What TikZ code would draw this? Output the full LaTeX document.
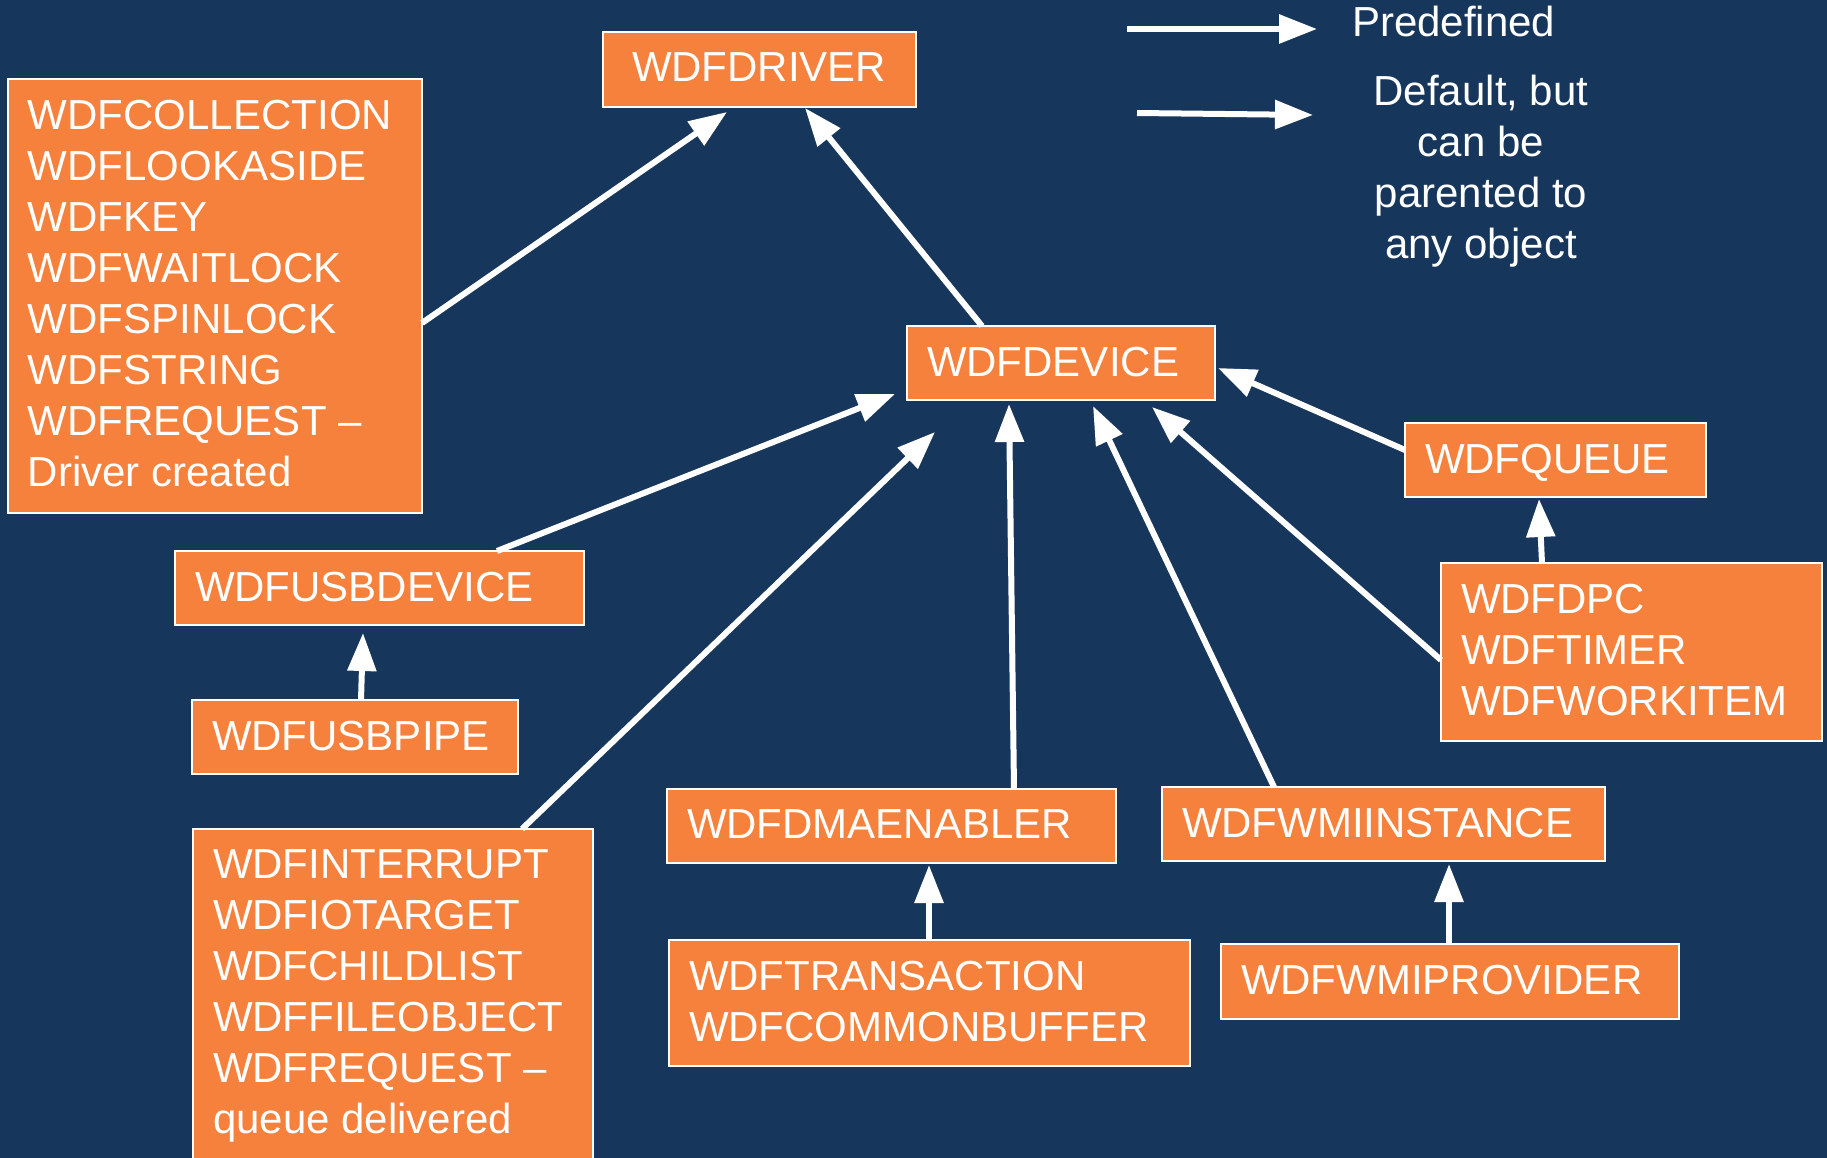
\documentclass[tikz,border=0pt]{standalone}
\usepackage{fontspec}
\setmainfont{Liberation Sans}
\usetikzlibrary{arrows.meta}
\definecolor{bg}{RGB}{23,54,92}
\definecolor{orng}{RGB}{245,129,61}
\newcommand\boxtxt[4][20pt]{\parbox[c][#3][t]{#2}{\leftskip=#1\parindent=0pt\rightskip=0pt plus 1fil\vspace*{21pt}#4}}
\begin{document}
\begin{tikzpicture}[x=1pt,y=-1pt,
  every node/.style={font=\fontsize{42}{51}\selectfont, text=white},
  objbox/.style={draw=white, line width=2pt, fill=orng, inner sep=0pt, outer sep=0pt, anchor=north west},
  arr/.style={draw=white, line width=6pt, -{Triangle[length=38pt,width=28pt]}}]
\useasboundingbox (0,0) rectangle (1827,1158);
\fill[bg] (0,0) rectangle (1827,1158);
\begin{scope}
\clip (0,0) rectangle (1827,1158);
\node[objbox] (drv) at (603,32) {\boxtxt[29pt]{313pt}{75pt}{WDFDRIVER}};
\node[objbox] (coll) at (8,79) {\boxtxt{414pt}{434pt}{WDFCOLLECTION\\WDFLOOKASIDE\\WDFKEY\\WDFWAITLOCK\\WDFSPINLOCK\\WDFSTRING\\WDFREQUEST –\\Driver created}};
\node[objbox] (dev) at (907,326) {\boxtxt{308pt}{74pt}{WDFDEVICE}};
\node[objbox] (queue) at (1405,423) {\boxtxt{301pt}{74pt}{WDFQUEUE}};
\node[objbox] (dpc) at (1441,563) {\boxtxt{381pt}{178pt}{WDFDPC\\WDFTIMER\\WDFWORKITEM}};
\node[objbox] (usbdev) at (175,551) {\boxtxt{409pt}{74pt}{WDFUSBDEVICE}};
\node[objbox] (usbpipe) at (192,700) {\boxtxt{326pt}{74pt}{WDFUSBPIPE}};
\node[objbox] (intr) at (193,829) {\boxtxt{400pt}{345pt}{WDFINTERRUPT\\WDFIOTARGET\\WDFCHILDLIST\\WDFFILEOBJECT\\WDFREQUEST –\\queue delivered}};
\node[objbox] (dma) at (667,789) {\boxtxt{449pt}{74pt}{WDFDMAENABLER}};
\node[objbox] (trans) at (669,940) {\boxtxt{521pt}{126pt}{WDFTRANSACTION\\WDFCOMMONBUFFER}};
\node[objbox] (wmi) at (1162,787) {\boxtxt{443pt}{74pt}{WDFWMIINSTANCE}};
\node[objbox] (wmip) at (1221,944) {\boxtxt{458pt}{75pt}{WDFWMIPROVIDER}};
\end{scope}
% connectors
\draw[arr] ([yshift=-244pt]coll.north east) -- ([xshift=124pt,yshift=-5pt]drv.south west);
\draw[arr] ([xshift=75pt]dev.north west) -- ([xshift=202pt,yshift=-1pt]drv.south west);
\draw[arr] ([xshift=322pt]usbdev.north west) -- ([xshift=-12pt,yshift=6pt]dev.south west);
\draw[arr] ([xshift=329pt]intr.north west) -- ([xshift=28pt,yshift=-32pt]dev.south west);
\draw[arr] ([xshift=347pt]dma.north west) -- ([xshift=102pt,yshift=-4pt]dev.south west);
\draw[arr] ([xshift=112pt]wmi.north west) -- ([xshift=186pt,yshift=-6pt]dev.south west);
\draw[arr] ([yshift=-97pt]dpc.north west) -- ([xshift=245pt,yshift=-7pt]dev.south west);
\draw[arr] ([yshift=-27pt]queue.north west) -- ([xshift=3pt,yshift=-42pt]dev.north east);
\draw[arr] ([xshift=101pt]dpc.north west) -- ([xshift=134pt,yshift=-2pt]queue.south west);
\draw[arr] ([xshift=169pt]usbpipe.north west) -- ([xshift=188pt,yshift=-8pt]usbdev.south west);
\draw[arr] ([xshift=260pt]trans.north west) -- ([xshift=262pt,yshift=-2pt]dma.south west);
\draw[arr] ([xshift=228pt]wmip.north west) -- ([xshift=287pt,yshift=-3pt]wmi.south west);
% legend
\coordinate (l1a) at (1127,29);
\coordinate (l1b) at (1317,29);
\coordinate (l2a) at (1137,113);
\coordinate (l2b) at (1313,115);
\draw[arr] (l1a) -- (l1b);
\draw[arr] (l2a) -- (l2b);
\node[inner sep=0pt, anchor=base west] (predef) at (1352,37) {Predefined};
\node[inner sep=0pt, anchor=north, align=center] (deflt) at (1481,75) {Default, but\\can be\\parented to\\any object};
\end{tikzpicture}
\end{document}
